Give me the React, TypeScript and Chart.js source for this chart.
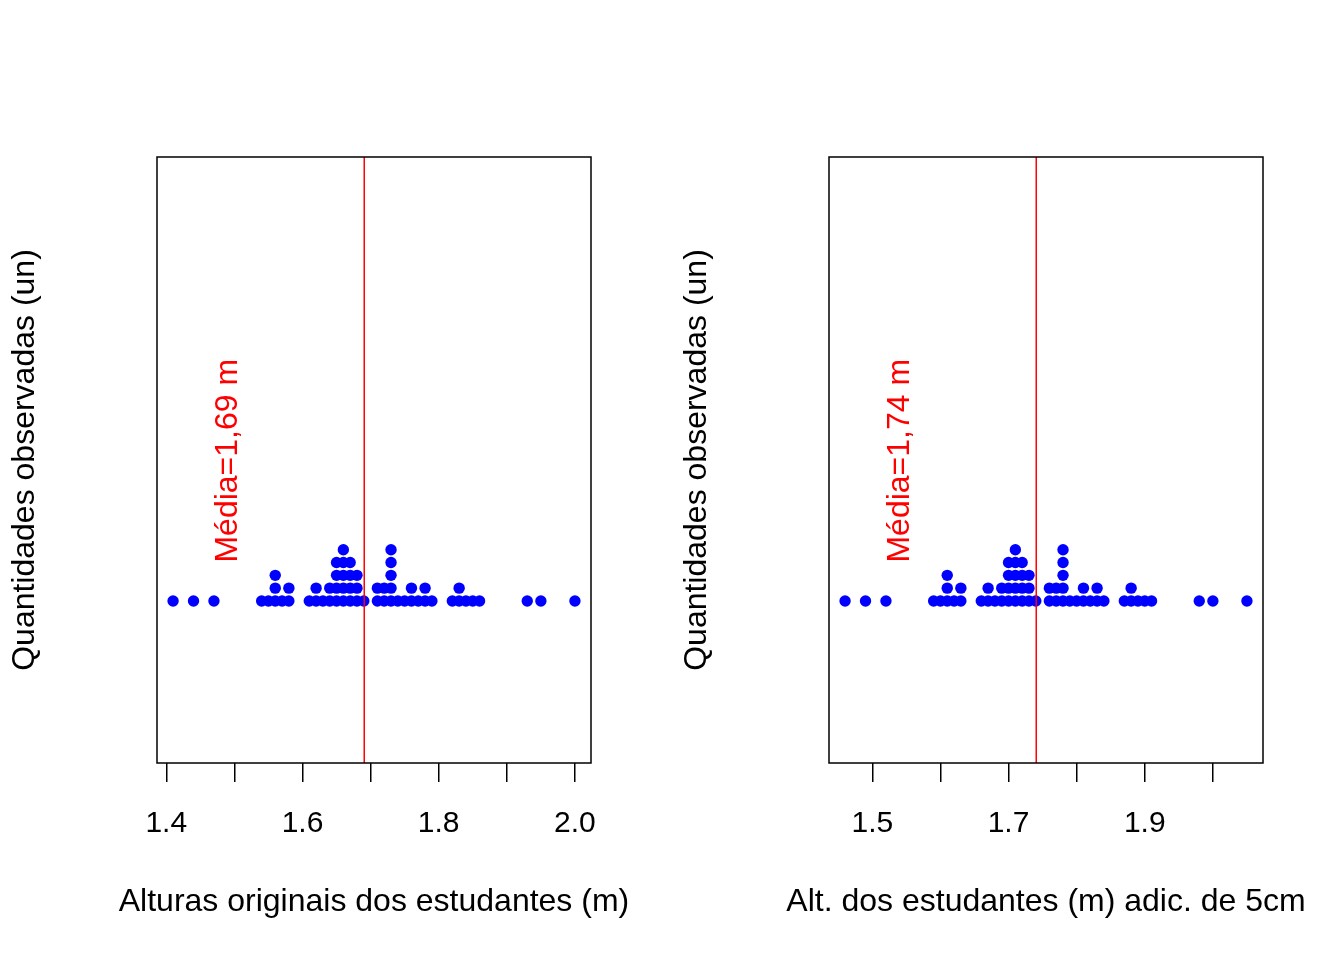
import { useEffect, useRef } from "react";
import { Chart, registerables } from "chart.js";

Chart.register(...registerables);

// Alturas originais dos estudantes (m) (passo de 0,01 m)
const alturasOriginais = [
  1.41, 1.44, 1.47,
  1.54, 1.55, 1.56, 1.56, 1.56, 1.57, 1.58, 1.58,
  1.61, 1.62, 1.62, 1.63, 1.64, 1.64, 1.65, 1.65, 1.65, 1.65,
  1.66, 1.66, 1.66, 1.66, 1.66, 1.67, 1.67, 1.67, 1.67, 1.68, 1.68, 1.68, 1.69,
  1.71, 1.71, 1.72, 1.72, 1.73, 1.73, 1.73, 1.73, 1.73, 1.74, 1.75, 1.76, 1.76,
  1.77, 1.78, 1.78, 1.79,
  1.82, 1.83, 1.83, 1.84, 1.85, 1.86,
  1.93, 1.95, 2.0,
];
const adicionalCm = 5;
const alturasAdicionadas = alturasOriginais.map(
  (v) => Math.round((v + adicionalCm / 100) * 100) / 100
);

const ticksOriginais = [1.4, 1.5, 1.6, 1.7, 1.8, 1.9, 2.0];
const rotulosOriginais = ["1.4", "", "1.6", "", "1.8", "", "2.0"];
const ticksAdicionadas = [1.5, 1.6, 1.7, 1.8, 1.9, 2.0];
const rotulosAdicionadas = ["1.5", "", "1.7", "", "1.9", ""];

const tituloX1 = "Alturas originais dos estudantes (m)";
const tituloX2 = "Alt. dos estudantes (m) adic. de 5cm";
const tituloY = "Quantidades observadas (un)";

const FONTE = "'Liberation Sans', Arial, Helvetica, sans-serif";

function empilhar(vals: number[]) {
  const cont = new Map<string, number>();
  return vals.map((v) => {
    const k = v.toFixed(2);
    const n = cont.get(k) ?? 0;
    cont.set(k, n + 1);
    return { x: v, y: n };
  });
}

function Painel(props: {
  valores: number[];
  ticks: number[];
  rotulos: string[];
  tituloX: string;
}) {
  const ref = useRef<HTMLCanvasElement | null>(null);
  useEffect(() => {
    const { valores, ticks, rotulos, tituloX } = props;
    const vmin = Math.min(...valores);
    const vmax = Math.max(...valores);
    const ext = (vmax - vmin) * 0.04;
    const media = valores.reduce((a, b) => a + b, 0) / valores.length;
    const rotuloMedia = "Média=" + media.toFixed(2).replace(".", ",") + " m";
    const yMin = -12.66;
    const yMax = 34.68;

    const caixaPlugin = {
      id: "caixa",
      afterDraw(chart: any) {
        const { ctx, chartArea } = chart;
        const xs = chart.scales.x;
        const ys = chart.scales.y;
        // texto da média
        ctx.save();
        ctx.fillStyle = "#FF0000";
        ctx.font = `32px ${FONTE}`;
        ctx.translate(xs.getPixelForValue(media - 0.2), ys.getPixelForValue(3));
        ctx.rotate(-Math.PI / 2);
        ctx.textAlign = "left";
        ctx.textBaseline = "middle";
        ctx.fillText(rotuloMedia, 0, 0);
        ctx.restore();
        // título do eixo x (sem compressão de largura)
        ctx.save();
        ctx.fillStyle = "#000";
        ctx.font = `32px ${FONTE}`;
        ctx.textAlign = "center";
        ctx.textBaseline = "middle";
        ctx.fillText(tituloX, (chartArea.left + chartArea.right) / 2, xs.bottom - 58);
        ctx.restore();
        // caixa
        ctx.save();
        ctx.strokeStyle = "#000";
        ctx.lineWidth = 1.5;
        ctx.strokeRect(
          chartArea.left,
          chartArea.top,
          chartArea.right - chartArea.left,
          chartArea.bottom - chartArea.top
        );
        ctx.restore();
      },
    };

    const chart = new Chart(ref.current as HTMLCanvasElement, {
      type: "scatter",
      data: {
        datasets: [
          {
            label: "média",
            data: [
              { x: media, y: yMin },
              { x: media, y: yMax },
            ],
            showLine: true,
            borderColor: "#FF0000",
            borderWidth: 1.5,
            pointRadius: 0,
          } as any,
          {
            label: "alturas",
            data: empilhar(valores),
            backgroundColor: "#0000FF",
            borderWidth: 0,
            pointRadius: 5.7,
            pointHoverRadius: 5.7,
          },
        ],
      },
      options: {
        animation: false,
        responsive: false,
        devicePixelRatio: 1,
        events: [],
        layout: { padding: { top: 157, right: 81, left: 0, bottom: 0 } },
        plugins: {
          legend: { display: false },
          tooltip: { enabled: false },
        },
        scales: {
          x: {
            type: "linear",
            position: "bottom",
            min: vmin - ext,
            max: vmax + ext,
            afterBuildTicks: (s: any) => {
              s.ticks = ticks.map((v) => ({ value: v }));
            },
            afterFit: (s: any) => {
              s.height = 197;
            },
            grid: {
              drawOnChartArea: false,
              drawTicks: true,
              tickLength: 19,
              color: "#000",
              lineWidth: 1.5,
            },
            border: { display: false },
            ticks: {
              autoSkip: false,
              maxRotation: 0,
              padding: 24,
              color: "#000",
              font: { family: FONTE, size: 30 },
              callback: (_v: any, i: number) => rotulos[i] ?? "",
            },
            title: { display: false },
          },
          y: {
            type: "linear",
            position: "left",
            min: yMin,
            max: yMax,
            afterFit: (s: any) => {
              s.width = 157;
            },
            grid: { display: false },
            border: { display: false },
            ticks: { display: false },
            title: {
              display: true,
              text: tituloY,
              color: "#000",
              font: { family: FONTE, size: 32 },
              padding: { top: 6, bottom: 0 },
            },
          },
        },
      },
      plugins: [caixaPlugin],
    } as any);
    return () => chart.destroy();
  }, []);
  return (
    <canvas
      ref={ref}
      width={672}
      height={960}
      style={{ display: "block", width: 672, height: 960 }}
    />
  );
}

export default function App() {
  return (
    <div
      style={{
        position: "fixed",
        left: 0,
        top: 0,
        width: 1344,
        height: 960,
        display: "flex",
        background: "#fff",
      }}
    >
      <Painel
        valores={alturasOriginais}
        ticks={ticksOriginais}
        rotulos={rotulosOriginais}
        tituloX={tituloX1}
      />
      <Painel
        valores={alturasAdicionadas}
        ticks={ticksAdicionadas}
        rotulos={rotulosAdicionadas}
        tituloX={tituloX2}
      />
    </div>
  );
}
